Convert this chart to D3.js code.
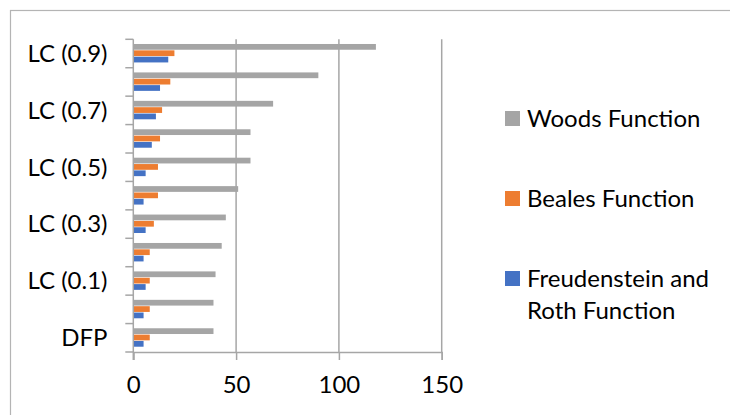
<!DOCTYPE html>
<html>
<head>
<meta charset="utf-8">
<script src="https://cdn.jsdelivr.net/npm/d3@7"></script>
<style>
  html, body { margin: 0; padding: 0; background: #fff; }
  svg { display: block; }
  text { font-family: Lato, "Open Sans", sans-serif; fill: #000; }
</style>
</head>
<body>
<svg id="chart" width="730" height="415"></svg>
<script>
// Categories listed bottom to top
const categories = ["DFP", "LC (0)", "LC (0.1)", "LC (0.2)", "LC (0.3)", "LC (0.4)",
                    "LC (0.5)", "LC (0.6)", "LC (0.7)", "LC (0.8)", "LC (0.9)"];
const seriesNames = ["Woods Function", "Beales Function", "Freudenstein and Roth Function"];
const woods  = [39, 39, 40, 43, 45, 51, 57, 57, 68, 90, 118];
const beales = [8, 8, 8, 8, 10, 12, 12, 13, 14, 18, 20];
const freud  = [5, 5, 6, 5, 6, 5, 6, 9, 11, 13, 17];
const xTicks = [0, 50, 100, 150];
const colors = ["#a5a5a5", "#ed7d31", "#4472c4"];

const seriesValues = [woods, beales, freud];
const rows = categories.map((c, i) => ({
  cat: c,
  values: seriesNames.map((s, k) => ({ series: s, k, value: seriesValues[k][i] }))
}));

const fontSize = 24;
const svg = d3.select("#chart");

// chart frame
svg.append("rect")
  .attr("x", 10.5).attr("y", 10.5)
  .attr("width", 740).attr("height", 420)
  .attr("fill", "none").attr("stroke", "#b4b4b4").attr("stroke-width", 1.2);

const plot = { left: 133.3, right: 441.7, top: 39.3, bottom: 352 };

const x = d3.scaleLinear().domain([0, 150]).range([plot.left, plot.right]);
const y0 = d3.scaleBand()
  .domain(categories.slice().reverse())
  .range([plot.top, plot.bottom])
  .padding(0);
const bw = y0.bandwidth();
const y1 = d3.scaleBand()
  .domain(seriesNames)
  .range([bw * 0.165, bw * 0.835])
  .padding(0);

const gridColor = "#a6a6a6";

// vertical gridlines
svg.append("g")
  .selectAll("line")
  .data(xTicks.filter(t => t > 0))
  .join("line")
  .attr("x1", d => x(d)).attr("x2", d => x(d))
  .attr("y1", plot.top).attr("y2", plot.bottom)
  .attr("stroke", gridColor).attr("stroke-width", 1.5);

// bars
const groups = svg.append("g")
  .selectAll("g")
  .data(rows)
  .join("g")
  .attr("transform", d => `translate(0,${y0(d.cat)})`);

groups.selectAll("rect")
  .data(d => d.values)
  .join("rect")
  .attr("x", x(0))
  .attr("y", d => y1(d.series))
  .attr("width", d => x(d.value) - x(0))
  .attr("height", y1.bandwidth() - 0.6)
  .attr("fill", d => colors[d.k]);

// category axis: boundary ticks + line
const yAxisG = svg.append("g");
const bounds = categories.map(c => y0(c)).concat([plot.bottom]);
yAxisG.selectAll("line.tick")
  .data(bounds)
  .join("line")
  .attr("class", "tick")
  .attr("x1", plot.left - 8).attr("x2", plot.left)
  .attr("y1", d => d).attr("y2", d => d)
  .attr("stroke", gridColor).attr("stroke-width", 1.5);
yAxisG.append("line")
  .attr("x1", plot.left).attr("x2", plot.left)
  .attr("y1", plot.top).attr("y2", plot.bottom + 8)
  .attr("stroke", gridColor).attr("stroke-width", 1.5);

// category labels (every other one)
const labelCats = categories.filter((c, i) => i % 2 === 0);
const yAxis = d3.axisLeft(y0).tickValues(labelCats).tickSize(0).tickPadding(0);
const yl = svg.append("g").attr("transform", `translate(107.5,0)`).call(yAxis);
yl.select(".domain").remove();
yl.selectAll("text")
  .attr("font-size", fontSize).attr("font-family", "Lato, sans-serif")
  .attr("fill", "#000").attr("dy", "0.35em");

// value axis
const xAxis = d3.axisBottom(x).tickValues(xTicks).tickSize(8).tickPadding(16).tickFormat(d3.format("d"));
const xg = svg.append("g").attr("transform", `translate(0,${plot.bottom})`).call(xAxis);
xg.select(".domain").attr("stroke", gridColor).attr("stroke-width", 1.5);
xg.selectAll(".tick line").attr("stroke", gridColor).attr("stroke-width", 1.5);
xg.selectAll("text")
  .attr("font-size", fontSize).attr("font-family", "Lato, sans-serif")
  .attr("fill", "#000");

// legend
const legendRows = [
  { lines: ["Woods Function"], k: 0, cy: 118.5 },
  { lines: ["Beales Function"], k: 1, cy: 198.5 },
  { lines: ["Freudenstein and", "Roth Function"], k: 2, cy: 278.5 }
];
const lg = svg.append("g");
const items = lg.selectAll("g").data(legendRows).join("g");
items.append("rect")
  .attr("x", 505).attr("y", d => d.cy - 7.5)
  .attr("width", 15).attr("height", 15)
  .attr("fill", d => colors[d.k]);
items.append("text")
  .attr("x", 527)
  .attr("y", d => d.cy)
  .attr("font-size", fontSize)
  .selectAll("tspan")
  .data(d => d.lines)
  .join("tspan")
  .attr("x", 527)
  .attr("dy", (d, i) => i === 0 ? "0.35em" : "32px")
  .text(d => d);
</script>
</body>
</html>
